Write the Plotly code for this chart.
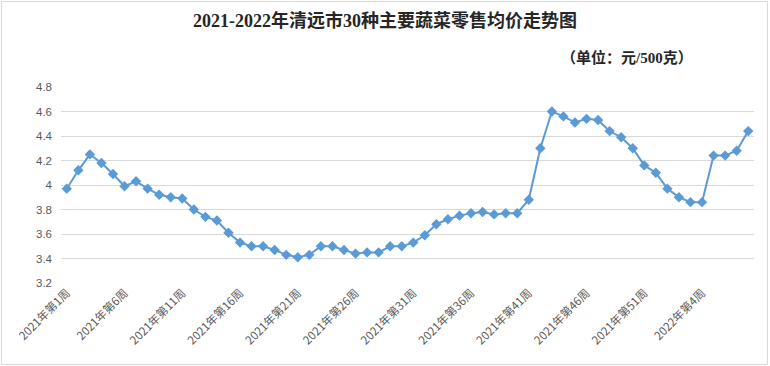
import plotly.graph_objects as go

# ---- data ----
weeks_2021 = [f"2021年第{i}周" for i in range(1, 53)]
weeks_2022 = [f"2022年第{i}周" for i in range(1, 9)]
categories = weeks_2021 + weeks_2022

prices = [
    3.97, 4.12, 4.25, 4.18, 4.09, 3.99, 4.03, 3.97, 3.92, 3.90,
    3.89, 3.80, 3.74, 3.71, 3.61, 3.53, 3.50, 3.50, 3.47, 3.43,
    3.41, 3.43, 3.50, 3.50, 3.47, 3.44, 3.45, 3.45, 3.50, 3.50,
    3.53, 3.59, 3.68, 3.72, 3.75, 3.77, 3.78, 3.76, 3.77, 3.77,
    3.88, 4.30, 4.60, 4.56, 4.51, 4.54, 4.53, 4.44, 4.39, 4.30,
    4.16, 4.10, 3.97, 3.90, 3.86, 3.86, 4.24, 4.24, 4.28, 4.44,
]

tick_labels = ["2021年第1周", "2021年第6周", "2021年第11周", "2021年第16周",
               "2021年第21周", "2021年第26周", "2021年第31周", "2021年第36周",
               "2021年第41周", "2021年第46周", "2021年第51周", "2022年第4周"]
y_ticks = [3.2, 3.4, 3.6, 3.8, 4.0, 4.2, 4.4, 4.6, 4.8]
y_tick_text = ["3.2", "3.4", "3.6", "3.8", "4", "4.2", "4.4", "4.6", "4.8"]

title_text = "2021-2022年清远市30种主要蔬菜零售均价走势图"
unit_text = "（单位：元/500克）"

# ---- figure ----
W, H = 770, 366
ml, mr, mt, mb = 61, 16, 87, 83
pw, ph = W - ml - mr, H - mt - mb

def px_x(v):
    return (v - ml) / pw

def px_y(v):
    return (H - mb - v) / ph

fig = go.Figure()
fig.add_trace(go.Scatter(
    x=categories, y=prices, mode="lines+markers",
    line=dict(color="#5B9BD5", width=2),
    marker=dict(symbol="diamond", size=8, color="#5B9BD5"),
    showlegend=False,
))

font_cjk = "Noto Sans CJK SC, Noto Sans, sans-serif"

fig.update_layout(
    width=W, height=H,
    margin=dict(l=ml, r=mr, t=mt, b=mb, autoexpand=False),
    paper_bgcolor="white", plot_bgcolor="white",
    font=dict(family=font_cjk, color="#595959", size=11),
    xaxis=dict(
        type="category", categoryorder="array", categoryarray=categories,
        range=[-0.5, len(categories) - 0.5], automargin=False,
        tickmode="array", tickvals=tick_labels, ticktext=tick_labels,
        tickangle=-45, tickfont=dict(size=11.5, color="#595959", family=font_cjk),
        showgrid=False, showline=False, zeroline=False, ticks="",
    ),
    yaxis=dict(
        range=[3.2, 4.8], tickmode="array", tickvals=y_ticks, ticktext=y_tick_text,
        showgrid=True, gridcolor="#d9d9d9", gridwidth=1, automargin=False,
        zeroline=False, showline=False, ticks="",
        tickfont=dict(size=11.5, color="#595959", family="Liberation Sans, Arial, sans-serif"),
        ticklabelstandoff=8,
    ),
    annotations=[
        dict(text="<b>" + title_text + "</b>", xref="paper", yref="paper",
             x=px_x(385), y=px_y(20), xanchor="center", yanchor="middle",
             showarrow=False,
             font=dict(family="Liberation Serif, Noto Sans CJK SC, serif", size=18, color="#262626")),
        dict(text="<b>" + unit_text + "</b>", xref="paper", yref="paper",
             x=px_x(627), y=px_y(58), xanchor="center", yanchor="middle",
             showarrow=False,
             font=dict(family="Liberation Serif, Noto Sans CJK SC, serif", size=15, color="#262626")),
    ],
    shapes=[
        dict(type="rect", xref="paper", yref="paper",
             x0=px_x(1.5), x1=px_x(767.5), y0=px_y(364.5), y1=px_y(1.5),
             line=dict(color="#d9d9d9", width=1), fillcolor="rgba(0,0,0,0)", layer="below"),
    ],
)

fig.write_html("out.html", config={"displayModeBar": False},
               post_script="document.body.style.margin='0';document.body.style.overflow='hidden';")
